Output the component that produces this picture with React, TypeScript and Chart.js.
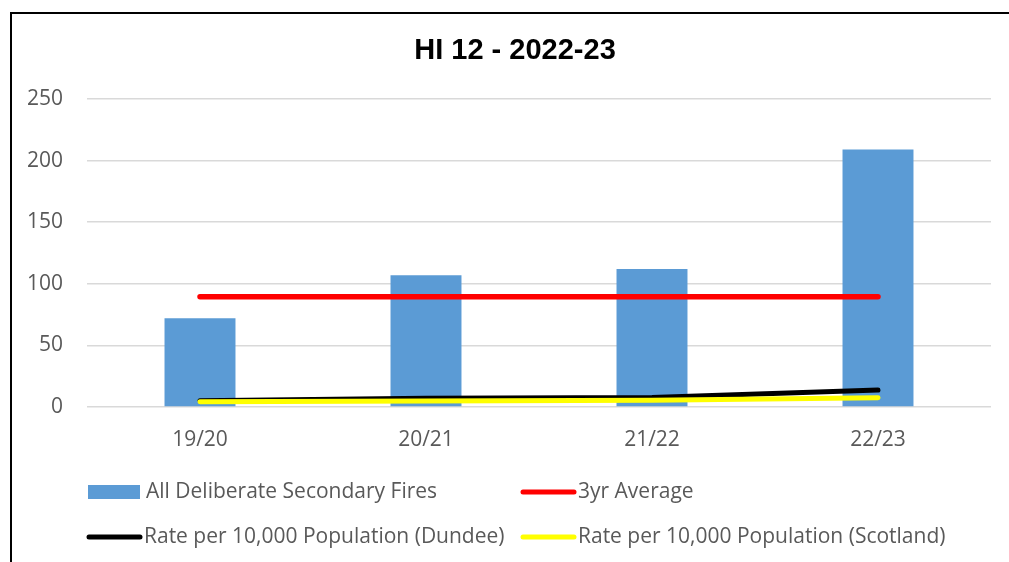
import React, { useEffect, useRef } from "react";
import { Chart, registerables } from "chart.js";

Chart.register(...registerables);

const categories = ["19/20", "20/21", "21/22", "22/23"];
const fires = [72, 107, 112, 209];
const avg3yr = [89.5, 89.5, 89.5, 89.5];
const rateDundee = [5.0, 7.2, 7.7, 13.8];
const rateScotland = [4.3, 4.9, 5.5, 7.6];
const seriesNames = [
  "All Deliberate Secondary Fires",
  "3yr Average",
  "Rate per 10,000 Population (Dundee)",
  "Rate per 10,000 Population (Scotland)",
];
const yTicks = [0, 50, 100, 150, 200, 250];
const titleText = "HI 12 - 2022-23";

const FONT = "'Open Sans', sans-serif";
const TEXT_COLOR = "#595959";

const legendPlugin = {
  id: "customLegend",
  afterDraw(chart: any) {
    const ctx = chart.ctx;
    const ds = chart.data.datasets;
    const slots = [
      { x: 88, y: 492 },
      { x: 520, y: 492 },
      { x: 86, y: 537 },
      { x: 520, y: 537 },
    ];
    ctx.save();
    ctx.font = `21px ${FONT}`;
    ctx.textBaseline = "middle";
    ctx.textAlign = "left";
    slots.forEach((s, i) => {
      const d = ds[i];
      if (d.type === "bar") {
        ctx.fillStyle = d.backgroundColor;
        ctx.fillRect(s.x, s.y - 7, 52, 14);
      } else {
        ctx.strokeStyle = d.borderColor;
        ctx.lineWidth = 5;
        ctx.lineCap = "round";
        ctx.beginPath();
        ctx.moveTo(s.x + 3, s.y);
        ctx.lineTo(s.x + 54, s.y);
        ctx.stroke();
      }
      ctx.fillStyle = TEXT_COLOR;
      ctx.fillText(d.label, s.x + 58, s.y);
    });
    // title
    ctx.font = `bold 29px 'Liberation Sans', Arial, sans-serif`;
    ctx.fillStyle = "#000000";
    ctx.textAlign = "center";
    ctx.textBaseline = "alphabetic";
    ctx.fillText(titleText, 515, 59);
    ctx.restore();
  },
};

export default function App() {
  const ref = useRef<HTMLCanvasElement | null>(null);
  useEffect(() => {
    if (!ref.current) return;
    const chart = new Chart(ref.current, {
      type: "bar",
      data: {
        labels: categories,
        datasets: [
          {
            type: "bar",
            label: seriesNames[0],
            data: fires,
            backgroundColor: "#5b9bd5",
            borderWidth: 0,
            barPercentage: 0.314,
            categoryPercentage: 1,
            order: 4,
          },
          {
            type: "line",
            label: seriesNames[1],
            data: avg3yr,
            borderColor: "#ff0000",
            borderWidth: 5.5,
            borderCapStyle: "round",
            pointRadius: 0,
            order: 3,
          },
          {
            type: "line",
            label: seriesNames[2],
            data: rateDundee,
            borderColor: "#000000",
            borderWidth: 5,
            borderCapStyle: "round",
            pointRadius: 0,
            order: 2,
          },
          {
            type: "line",
            label: seriesNames[3],
            data: rateScotland,
            borderColor: "#ffff00",
            borderWidth: 5,
            borderCapStyle: "round",
            pointRadius: 0,
            order: 1,
          },
        ] as any,
      },
      options: {
        responsive: false,
        animation: false,
        devicePixelRatio: 1,
        layout: { padding: { top: 99, right: 18, left: 0, bottom: 0 } },
        plugins: {
          legend: { display: false },
          title: { display: false },
          tooltip: { enabled: false },
        },
        scales: {
          x: {
            grid: { display: false, drawTicks: false },
            border: { display: false },
            ticks: {
              color: TEXT_COLOR,
              font: { family: FONT, size: 21 },
              padding: 20,
            },
            afterFit(scale: any) {
              scale.height = 155;
            },
          },
          y: {
            min: 0,
            max: 250,
            afterBuildTicks(scale: any) {
              scale.ticks = yTicks.map((v) => ({ value: v }));
            },
            grid: { color: "#d9d9d9", lineWidth: 1.5, drawTicks: false },
            border: { display: false },
            ticks: {
              color: TEXT_COLOR,
              font: { family: FONT, size: 21 },
              padding: 24,
            },
            afterFit(scale: any) {
              scale.width = 87;
            },
          },
        },
      } as any,
      plugins: [legendPlugin],
    });
    return () => chart.destroy();
  }, []);

  return (
    <div style={{ position: "absolute", left: 0, top: 0, width: 1009, height: 562, background: "#fff", overflow: "hidden" }}>
      <canvas ref={ref} width={1009} height={562} style={{ position: "absolute", left: 0, top: 0 }} />
      <div style={{ position: "absolute", left: 10, top: 12, width: 1009, height: 600, borderLeft: "2px solid #000", borderTop: "2px solid #000", boxSizing: "border-box", pointerEvents: "none" }} />
    </div>
  );
}
